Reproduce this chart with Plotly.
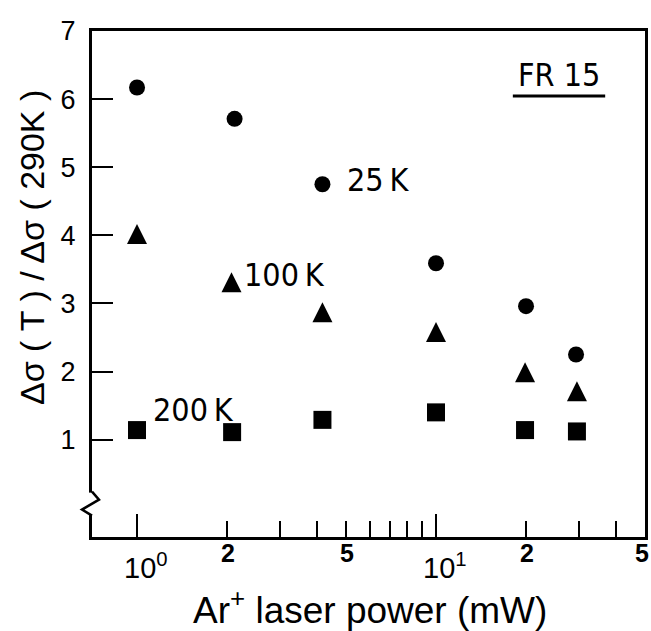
import math
import plotly.graph_objects as go

# ---- data ----
power_25K = [1.0, 2.12, 4.17, 10.0, 20.0, 29.4]
ratio_25K = [6.17, 5.71, 4.75, 3.59, 2.96, 2.25]

power_100K = [1.0, 2.07, 4.17, 10.0, 19.85, 29.6]
ratio_100K = [4.02, 3.31, 2.87, 2.58, 1.99, 1.71]

power_200K = [1.0, 2.08, 4.17, 10.0, 19.85, 29.6]
ratio_200K = [1.14, 1.11, 1.29, 1.40, 1.14, 1.12]

series_names = ["25\u2009K", "100\u2009K", "200\u2009K"]
label_power = [6.42, 3.12, 1.54]
label_ratio = [4.81, 3.42, 1.43]

y_tick_vals = [1, 2, 3, 4, 5, 6, 7]
y_tick_text = ["1", "2", "3", "4", "5", "6", "7"]
x_major_ticks = [1, 10]
x_minor_ticks = [2, 3, 4, 5, 6, 7, 8, 9, 20, 30, 40]
x_label_vals = [1, 2, 5, 10, 20, 50]
x_label_text = ["10<sup>0</sup>", "<b>2</b>", "<b>5</b>", "10<sup>1</sup>", "<b>2</b>", "<b>5</b>"]
sample_name = "FR 15"
x_title = "Ar<sup>+</sup> laser power (mW)"
y_title = "Δσ ( T ) / Δσ ( 290K )"

FONT = "Liberation Sans, Arial, sans-serif"
NARROW = "Liberation Sans Narrow, DejaVu Sans Condensed, Liberation Sans, sans-serif"

fig = go.Figure()
fig.add_trace(go.Scatter(x=power_25K, y=ratio_25K, mode="markers", name="25 K",
                         marker=dict(symbol="circle", size=16, color="black", line=dict(width=0))))
tri = 20
fig.add_trace(go.Scatter(x=power_100K, y=ratio_100K, mode="markers", name="100 K",
                         marker=dict(symbol="arrow-down", angle=180, standoff=tri / 2, size=tri,
                                     color="black", line=dict(width=0))))
fig.add_trace(go.Scatter(x=power_200K, y=ratio_200K, mode="markers", name="200 K",
                         marker=dict(symbol="square", size=18, color="black", line=dict(width=0))))

annotations = []
for name, px, py in zip(series_names, label_power, label_ratio):
    annotations.append(dict(x=math.log10(px), y=py, xref="x", yref="y", text=name,
                            showarrow=False, xanchor="center", yanchor="middle",
                            font=dict(family=NARROW, size=32, color="black")))
annotations.append(dict(x=math.log10(25.7), y=6.35, xref="x", yref="y", text=sample_name,
                        showarrow=False, xanchor="center", yanchor="middle",
                        font=dict(family=NARROW, size=32, color="black")))

for v, t in zip(x_label_vals, x_label_text):
    big = "sup" in t
    annotations.append(dict(x=math.log10(v), y=0, xref="x", yref="paper", text=t,
                            showarrow=False, xanchor="center", yanchor="middle",
                            xshift=9 if big else (-3 if v == 50 else 1),
                            yshift=-29 if big else -16,
                            font=dict(family=FONT, size=29 if big else 25, color="black")))

# axis titles (placed as text so they sit where the reference has them)
annotations.append(dict(x=-0.1085, y=0.573, xref="paper", yref="paper", text=y_title,
                        textangle=-90, showarrow=False, xanchor="center", yanchor="middle",
                        font=dict(family=FONT, size=34, color="black")))
annotations.append(dict(x=0.5027, y=-0.139, xref="paper", yref="paper", text=x_title,
                        showarrow=False, xanchor="center", yanchor="middle",
                        font=dict(family=FONT, size=37, color="black")))

fig.update_layout(
    width=651, height=631,
    margin=dict(l=92, r=6, t=31, b=94),
    paper_bgcolor="white", plot_bgcolor="white",
    showlegend=False,
    annotations=annotations,
    xaxis=dict(
        type="log", range=[math.log10(0.707), math.log10(50)],
        tickvals=x_major_ticks, ticks="inside", ticklen=23, tickwidth=2, tickcolor="black",
        showticklabels=False,
        minor=dict(tickvals=x_minor_ticks, ticks="inside", ticklen=16, tickwidth=2,
                   tickcolor="black", showgrid=False),
        showline=True, linewidth=3, linecolor="black", mirror=True,
        showgrid=False, zeroline=False,
        automargin=False,
    ),
    yaxis=dict(
        range=[-0.43, 7.0],
        tickvals=y_tick_vals, ticktext=y_tick_text,
        ticks="inside", ticklen=21, tickwidth=2, tickcolor="black",
        ticklabelstandoff=8,
        tickfont=dict(family=FONT, size=27, color="black"),
        showline=True, linewidth=3, linecolor="black", mirror=True,
        showgrid=False, zeroline=False,
        automargin=False,
    ),
)

# underline of the sample name
fig.add_shape(type="line", xref="paper", yref="paper", x0=0.761, x1=0.928, y0=0.8715, y1=0.8715,
              line=dict(color="black", width=3))
# axis break on the left axis
fig.add_shape(type="rect", xref="paper", yref="y", xsizemode="pixel", ysizemode="pixel",
              xanchor=0, yanchor=0.06, x0=-3, x1=3, y0=-11, y1=11,
              fillcolor="white", line=dict(width=0), layer="above")
fig.add_shape(type="path", xref="paper", yref="y", xsizemode="pixel", ysizemode="pixel",
              xanchor=0, yanchor=0.06, path="M0,12 L7,4 L-10,-6 L0,-12",
              line=dict(color="black", width=2.5), layer="above")

fig.write_html("out.html", config={"displayModeBar": False},
               post_script="document.body.style.margin='0';")
